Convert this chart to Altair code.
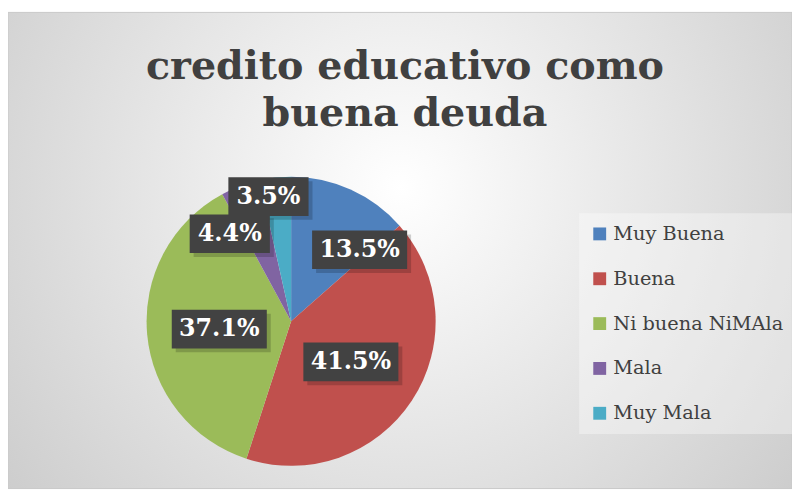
import altair as alt
import pandas as pd

# ---- data ----
categories = ["Muy Buena", "Buena", "Ni buena NiMAla", "Mala", "Muy Mala"]
values = [13.5, 41.5, 37.1, 4.4, 3.5]
labels = ["13.5%", "41.5%", "37.1%", "4.4%", "3.5%"]
colors = ["#4F81BD", "#C0504D", "#9BBB59", "#8064A2", "#4BACC6"]

# ---- label placement (Excel "best fit"): angular nudge in degrees, radius in px ----
label_nudge = [19.5, 0.9, -1.0, -14.5, -4.0]
label_radius = [100, 73, 73, 108, 128]

W, H = 572, 292
CX, CY = W / 2, H / 2
R = 146

df = pd.DataFrame({
    "cat": categories,
    "value": values,
    "label": labels,
    "order": list(range(len(categories))),
    "nudge": label_nudge,
    "lr": label_radius,
})

base = alt.Chart(df)

# background panel with radial gradient
bg = alt.Chart(pd.DataFrame({"k": [0]})).mark_rect(
    color=alt.RadialGradient(
        gradient="radial",
        stops=[alt.GradientStop(color="#ffffff", offset=0),
               alt.GradientStop(color="#c6c6c6", offset=1)],
        x1=0.5, y1=0.42, x2=0.5, y2=0.42, r1=0, r2=0.72),
    stroke="#c8c8c8", strokeWidth=1,
).encode(x=alt.value(0), x2=alt.value(792), y=alt.value(-166), y2=alt.value(315))

pie = base.mark_arc(radius=R).encode(
    theta=alt.Theta("value:Q", stack=True),
    color=alt.Color("cat:N", sort=categories,
                    scale=alt.Scale(domain=categories, range=colors),
                    legend=alt.Legend(
                        orient="none", legendX=577, legendY=37, title=None,
                        symbolType="square", symbolSize=169, symbolStrokeWidth=0,
                        labelFont="DejaVu Serif", labelFontSize=19.5, labelColor="#404040",
                        labelOffset=4, labelLimit=400, rowPadding=24.3, padding=11,
                        fillColor="rgba(255,255,255,0.35)")),
    order=alt.Order("order:Q"),
)

lab = base.transform_joinaggregate(
    total="sum(value)"
).transform_window(
    cum="sum(value)", sort=[alt.SortField("order")], frame=[None, 0]
).transform_calculate(
    ang="((datum.cum - datum.value/2)/datum.total*360 + datum.nudge) * PI / 180"
).transform_calculate(
    lx=f"{CX} + datum.lr * sin(datum.ang)",
    ly=f"{CY} - datum.lr * cos(datum.ang)",
    hw="length(datum.label) * 7.5 + 10.5",
).transform_calculate(
    bx1="datum.lx - datum.hw", bx2="datum.lx + datum.hw",
    by1="datum.ly - 19.5", by2="datum.ly + 19.5",
    sx1="datum.lx - datum.hw + 4", sx2="datum.lx + datum.hw + 4",
    sy1="datum.ly - 19.5 + 4", sy2="datum.ly + 19.5 + 4",
)

shadow = lab.mark_rect(color="#000000", opacity=0.18).encode(
    x=alt.X("sx1:Q", scale=None), x2="sx2:Q",
    y=alt.Y("sy1:Q", scale=None), y2="sy2:Q",
)
box = lab.mark_rect(color="#424242").encode(
    x=alt.X("bx1:Q", scale=None), x2="bx2:Q",
    y=alt.Y("by1:Q", scale=None), y2="by2:Q",
)
txt = lab.mark_text(font="DejaVu Serif", fontSize=24, fontWeight="bold",
                    color="#ffffff", align="center", baseline="middle").encode(
    x=alt.X("lx:Q", scale=None), y=alt.Y("ly:Q", scale=None), text="label:N",
)

chart = alt.layer(bg, pie, shadow, box, txt).properties(
    width=W, height=H,
    title=alt.Title(["credito educativo como", "buena deuda"],
                    font="DejaVu Serif", fontSize=40, fontWeight="bold",
                    color="#404040", anchor="middle", frame="group", dx=115,
                    lineHeight=47, baseline="alphabetic", offset=-155),
    padding={"left": 0, "top": 168, "right": 220, "bottom": 23},
    autosize=alt.AutoSizeParams(type="none"),
).configure_view(stroke=None).configure(background="#ffffff")

chart.save("out.html", embed_options={"renderer": "svg", "actions": False})
